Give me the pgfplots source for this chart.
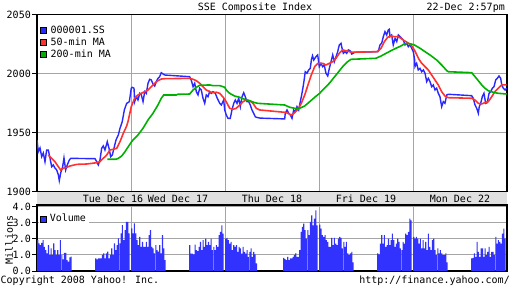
\documentclass[border=0pt]{standalone}
\usepackage{pgfplots}
\pgfplotsset{compat=1.18}
\usepackage{fontspec}
\setmainfont{DejaVu Sans Mono}
\definecolor{ssblue}{RGB}{40,40,255}
\definecolor{ssred}{RGB}{255,50,50}
\definecolor{ssgreen}{RGB}{0,176,0}
\definecolor{volblue}{RGB}{50,50,255}
\definecolor{gridgray}{RGB}{165,165,165}
\definecolor{bandgray}{RGB}{224,224,224}
\begin{document}
\fontsize{10pt}{12pt}\selectfont
\begin{tikzpicture}
\useasboundingbox (0,0) rectangle (512pt,288pt);
\fill[bandgray] (37pt,83pt) rectangle (507pt,96.5pt);
\begin{axis}[name=main, at={(37pt,96.5pt)}, anchor=south west, scale only axis,
  width=470pt, height=177pt, xmin=0, xmax=5, ymin=1900, ymax=2050,
  axis line style={black, line width=1.2pt},
  xtick={1,2,3,4}, xticklabels={}, xtick style={draw=none},
  ytick={1900,1950,2000,2050}, yticklabels={1900,1950,2000,2050},
  ytick pos=left, tick align=outside, major tick length=5pt,
  ytick style={black, line width=0.8pt},
  yticklabel style={inner sep=1pt},
  grid=major, grid style={gridgray, line width=0.8pt},
  extra x ticks={0.809,1.5,2.5,3.5,4.5},
  extra x tick labels={Tue Dec 16,Wed Dec 17,Thu Dec 18,Fri Dec 19,Mon Dec 22},
  extra x tick style={grid=none, major tick length=0pt, tick label style={anchor=base, yshift=-11pt}},
  legend style={at={(0.004,0.952)}, anchor=north west, draw=none, fill=white,
    inner sep=1pt, row sep=0pt, column sep=0pt, nodes={inner sep=1.5pt}, legend cell align=left},
]
\addplot[ssblue, line width=1.4pt, legend image code/.code={\filldraw[draw=black, line width=0.6pt, fill=ssblue] (0pt,-3pt) rectangle (6pt,3pt); \path (8pt,0pt);}] coordinates {
(0.000,1943.6)(0.014,1933.7)(0.032,1936.9)(0.050,1929.5)(0.067,1932.6)(0.085,1925.3)(0.103,1935.2)(0.120,1935.2)(0.138,1928.4)(0.156,1921.0)(0.173,1922.5)(0.191,1919.9)(0.210,1918.2)(0.227,1914.0)(0.237,1909.2)(0.252,1915.7)(0.273,1921.0)(0.287,1928.4)(0.305,1918.2)(0.322,1922.5)(0.344,1926.7)(0.359,1928.1)(0.617,1927.8)(0.635,1925.3)(0.652,1922.5)(0.670,1926.7)(0.688,1936.6)(0.705,1938.6)(0.723,1935.2)(0.748,1942.2)(0.766,1936.6)(0.784,1929.5)(0.801,1930.9)(0.819,1936.6)(0.840,1943.6)(0.865,1947.9)(0.883,1953.6)(0.907,1959.2)(0.929,1969.1)(0.954,1974.7)(0.982,1976.1)(1.003,1987.5)
(1.011,1988.3)(1.032,1987.5)(1.039,1976.1)(1.056,1980.3)(1.074,1977.5)(1.093,1983.2)(1.110,1981.8)(1.128,1976.1)(1.146,1984.6)(1.163,1983.2)(1.181,1991.7)(1.199,1995.1)(1.216,1994.5)(1.234,1991.1)(1.252,1989.4)(1.269,1993.1)(1.287,1995.9)(1.305,1997.3)(1.322,2000.7)(1.340,1999.6)(1.359,1998.7)(1.624,1997.3)(1.641,1994.5)(1.660,1988.8)(1.678,1991.7)(1.695,1984.6)(1.713,1981.8)(1.731,1987.5)(1.748,1986.0)(1.766,1979.0)(1.784,1974.7)(1.801,1981.8)(1.819,1980.3)(1.837,1984.6)(1.854,1983.2)(1.872,1984.6)(1.897,1983.2)(1.918,1979.0)(1.944,1974.7)(1.961,1973.3)(1.986,1977.5)(1.997,1969.1)
(2.014,1964.8)(2.032,1962.0)(2.056,1962.0)(2.074,1969.1)(2.093,1974.7)(2.110,1977.5)(2.128,1974.7)(2.146,1979.0)(2.163,1971.9)(2.181,1980.3)(2.199,1983.7)(2.216,1980.3)(2.234,1976.1)(2.252,1976.1)(2.269,1973.3)(2.287,1969.1)(2.305,1966.3)(2.322,1963.4)(2.333,1962.9)(2.372,1962.2)(2.635,1961.5)(2.641,1966.3)(2.660,1969.1)(2.678,1966.3)(2.695,1964.8)(2.713,1962.0)(2.731,1969.1)(2.748,1967.7)(2.766,1971.9)(2.784,1969.1)(2.801,1976.1)(2.819,1983.2)(2.837,1991.7)(2.854,2001.5)(2.872,2000.2)(2.890,2003.0)(2.907,2004.4)(2.920,2012.0)(2.931,2015.0)(2.944,2011.4)(2.957,2013.0)(2.968,2014.2)(2.986,2015.7)
(3.003,2005.8)(3.021,2008.6)(3.039,2005.8)(3.056,2007.2)(3.074,2000.2)(3.093,1997.9)(3.110,2004.4)(3.128,2010.0)(3.146,2015.7)(3.163,2010.0)(3.181,2014.2)(3.199,2018.5)(3.216,2024.2)(3.234,2025.6)(3.245,2021.4)(3.259,2017.1)(3.277,2018.5)(3.295,2017.1)(3.312,2020.0)(3.330,2019.3)(3.348,2016.5)(3.365,2017.1)(3.376,2018.0)(3.624,2018.5)(3.635,2020.0)(3.649,2024.2)(3.667,2025.6)(3.684,2031.2)(3.702,2035.4)(3.720,2032.6)(3.737,2036.9)(3.748,2037.5)(3.755,2031.2)(3.773,2032.6)(3.790,2024.2)(3.809,2029.8)(3.827,2027.0)(3.844,2032.6)(3.862,2031.2)(3.880,2029.8)(3.897,2028.4)(3.915,2024.2)(3.933,2025.6)(3.950,2022.7)(3.968,2024.2)(3.986,2021.4)(4.003,2018.5)(4.018,2011.4)
(4.021,2005.8)(4.039,2008.6)(4.056,2003.0)(4.074,2004.4)(4.093,2001.5)(4.110,2003.0)(4.128,2000.2)(4.146,1993.1)(4.163,1995.9)(4.181,1993.1)(4.199,1988.8)(4.216,1990.3)(4.234,1986.0)(4.252,1987.5)(4.269,1983.2)(4.287,1980.3)(4.305,1971.9)(4.322,1976.1)(4.340,1974.7)(4.359,1981.8)(4.376,1982.4)(4.624,1981.2)(4.641,1979.0)(4.660,1973.3)(4.678,1970.5)(4.695,1966.3)(4.705,1971.9)(4.720,1974.7)(4.737,1980.3)(4.755,1983.2)(4.773,1974.7)(4.790,1975.3)(4.809,1983.2)(4.827,1984.6)(4.844,1987.5)(4.862,1988.8)(4.880,1994.5)(4.897,1995.9)(4.915,1997.9)(4.933,1995.9)(4.944,1990.3)(4.961,1987.5)(4.979,1986.0)(4.997,1987.5)
};
\addplot[ssred, line width=1.6pt, legend image code/.code={\filldraw[draw=black, line width=0.6pt, fill=ssred] (0pt,-3pt) rectangle (6pt,3pt); \path (8pt,0pt);}] coordinates {
(0.120,1930.9)(0.156,1928.1)(0.191,1925.3)(0.227,1921.0)(0.252,1918.2)(0.280,1919.7)(0.316,1920.5)(0.351,1921.6)(0.422,1923.0)(0.529,1923.3)(0.635,1924.4)(0.670,1925.3)(0.705,1928.1)(0.741,1930.9)(0.777,1935.2)(0.812,1935.8)(0.848,1936.6)(0.883,1942.2)(0.918,1949.3)(0.954,1955.5)(0.968,1959.2)(1.003,1971.9)
(1.039,1979.0)(1.074,1981.8)(1.110,1983.2)(1.146,1984.6)(1.181,1986.0)(1.216,1988.8)(1.252,1991.7)(1.287,1993.9)(1.322,1995.3)(1.359,1995.6)(1.624,1995.9)(1.660,1995.1)(1.695,1993.9)(1.731,1991.7)(1.766,1988.8)(1.801,1986.0)(1.837,1984.6)(1.872,1983.7)(1.907,1984.1)(1.944,1983.2)(1.979,1980.0)(2.014,1976.0)
(2.050,1970.5)(2.085,1969.7)(2.120,1970.5)(2.156,1973.3)(2.191,1976.1)(2.227,1977.5)(2.263,1976.9)(2.298,1974.7)(2.333,1970.5)(2.369,1969.1)(2.635,1967.1)(2.670,1966.3)(2.705,1964.8)(2.741,1966.8)(2.777,1969.7)(2.812,1974.7)(2.848,1981.8)(2.883,1990.3)(2.918,1998.7)(2.954,2005.8)(2.989,2008.6)
(3.039,2008.6)(3.074,2007.2)(3.110,2008.6)(3.146,2010.0)(3.181,2012.9)(3.216,2017.1)(3.252,2020.0)(3.287,2019.3)(3.322,2018.5)(3.359,2018.0)(3.624,2018.5)(3.660,2021.4)(3.695,2027.0)(3.731,2030.7)(3.766,2031.8)(3.801,2031.2)(3.837,2031.2)(3.872,2029.8)(3.907,2027.8)(3.944,2026.1)(3.979,2024.2)(4.014,2020.0)
(4.064,2012.0)(4.093,2008.6)(4.128,2005.8)(4.163,2003.0)(4.199,1998.7)(4.234,1994.5)(4.269,1990.3)(4.305,1984.6)(4.340,1980.9)(4.376,1979.5)(4.624,1979.0)(4.660,1977.5)(4.695,1974.7)(4.731,1974.2)(4.766,1975.3)(4.801,1976.1)(4.837,1980.3)(4.872,1984.6)(4.907,1987.5)(4.944,1990.3)(4.997,1990.3)
};
\addplot[ssgreen, line width=1.6pt, legend image code/.code={\filldraw[draw=black, line width=0.6pt, fill=ssgreen] (0pt,-3pt) rectangle (6pt,3pt); \path (8pt,0pt);}] coordinates {
(0.748,1927.3)(0.840,1927.3)(0.865,1928.1)(0.901,1930.1)(0.936,1933.7)(0.971,1938.0)(1.007,1942.2)
(1.021,1943.6)(1.074,1947.9)(1.128,1953.6)(1.181,1960.6)(1.234,1966.3)(1.287,1973.3)(1.322,1979.0)(1.348,1981.8)(1.482,1981.8)(1.500,1982.4)(1.624,1982.6)(1.660,1986.0)(1.695,1988.3)(1.731,1990.0)(1.837,1990.3)(1.872,1989.7)(1.944,1989.7)(1.997,1988.3)
(2.014,1986.0)(2.050,1983.2)(2.103,1980.9)(2.156,1979.8)(2.210,1978.1)(2.263,1976.9)(2.316,1975.3)(2.351,1974.7)(2.635,1973.3)(2.688,1971.4)(2.741,1970.5)(2.795,1970.5)(2.848,1972.5)(2.901,1976.1)(2.954,1979.8)(3.007,1983.2)
(3.039,1986.0)(3.110,1991.7)(3.181,1998.7)(3.252,2005.8)(3.305,2010.0)(3.340,2012.0)(3.606,2012.9)(3.660,2014.8)(3.713,2017.1)(3.766,2019.3)(3.819,2021.4)(3.872,2023.3)(3.907,2025.0)(3.944,2025.6)(3.979,2025.0)(4.014,2024.2)
(4.074,2021.4)(4.128,2018.5)(4.181,2015.7)(4.252,2011.4)(4.322,2005.8)(4.359,2002.4)(4.376,2001.5)(4.624,2000.7)(4.660,1997.3)(4.695,1993.9)(4.731,1990.3)(4.766,1987.5)(4.801,1985.4)(4.854,1984.1)(4.907,1983.2)(4.997,1982.6)
};
\legend{000001.SS,50-min MA,200-min MA}
\end{axis}
\begin{axis}[name=vol, at={(37pt,17pt)}, anchor=south west, scale only axis,
  width=470pt, height=66pt, xmin=0, xmax=5, ymin=0, ymax=4.09,
  axis line style={black, line width=1.2pt},
  xtick={1,2,3,4}, xticklabels={}, xtick style={draw=none},
  ytick={0,1,2,3,4}, yticklabels={0.0,1.0,2.0,3.0,4.0},
  ytick pos=left, tick align=outside, major tick length=5pt,
  ytick style={black, line width=0.8pt},
  yticklabel style={inner sep=1pt},
  grid=major, grid style={gridgray, line width=0.8pt},
  legend style={at={(0.004,0.90)}, anchor=north west, draw=none, fill=white,
    inner sep=1pt, nodes={inner sep=1.5pt}, legend cell align=left},
]
\addplot[ybar, bar width=1.1pt, bar shift=0pt, fill=volblue, draw=none, legend image code/.code={\filldraw[draw=black, line width=0.6pt, fill=volblue] (0pt,-3pt) rectangle (6pt,3pt); \path (8pt,0pt);}] coordinates {
(0.008,1.92)(0.022,1.71)(0.036,1.61)(0.051,1.75)(0.065,1.92)(0.079,1.5)(0.093,1.3)(0.107,1.09)(0.122,1.61)(0.136,0.99)(0.150,1.4)(0.164,1.0)(0.178,1.71)(0.193,1.3)(0.207,1.0)(0.221,1.3)(0.235,1.0)(0.249,1.92)(0.264,1.0)(0.278,0.72)(0.292,1.13)(0.306,1.13)(0.320,0.68)(0.335,0.58)(0.349,0.85)(0.363,0.89)
(0.625,0.78)(0.639,0.72)(0.653,0.78)(0.668,0.78)(0.682,0.78)(0.696,1.0)(0.710,1.09)(0.724,0.78)(0.739,1.09)(0.753,1.2)(0.767,0.78)(0.781,1.0)(0.795,1.4)(0.810,1.0)(0.824,1.71)(0.838,1.3)(0.852,1.61)(0.866,2.02)(0.881,1.71)(0.895,2.33)(0.909,2.85)(0.923,1.92)(0.937,2.54)(0.952,3.05)(0.966,3.05)(0.980,2.33)
(1.008,2.64)(1.022,2.33)(1.036,2.95)(1.051,2.33)(1.065,1.92)(1.079,1.61)(1.093,2.12)(1.107,1.5)(1.122,1.81)(1.136,1.5)(1.150,1.5)(1.164,1.81)(1.178,1.5)(1.193,2.23)(1.207,2.54)(1.221,1.5)(1.235,1.4)(1.249,1.09)(1.264,1.61)(1.278,1.3)(1.292,1.2)(1.306,1.61)(1.320,1.09)(1.335,2.23)(1.349,1.4)(1.363,0.68)
(1.625,1.6)(1.639,1.08)(1.653,1.08)(1.668,1.03)(1.682,1.64)(1.696,1.3)(1.710,1.23)(1.724,1.5)(1.739,1.8)(1.753,1.3)(1.767,1.91)(1.781,1.5)(1.795,2.01)(1.810,1.6)(1.824,1.8)(1.838,1.6)(1.852,2.01)(1.866,1.3)(1.881,1.5)(1.895,1.3)(1.909,1.6)(1.923,1.5)(1.937,2.22)(1.952,2.42)(1.966,2.83)(1.980,2.32)
(2.008,2.01)(2.022,2.05)(2.036,1.91)(2.051,1.7)(2.065,1.8)(2.079,1.3)(2.093,1.6)(2.107,1.5)(2.122,1.6)(2.136,1.19)(2.150,1.5)(2.164,1.4)(2.178,1.08)(2.193,1.5)(2.207,1.19)(2.221,1.08)(2.235,1.3)(2.249,0.88)(2.264,1.19)(2.278,1.4)(2.292,0.88)(2.306,1.19)(2.320,1.03)(2.335,0.47)
(2.625,0.82)(2.639,0.74)(2.653,0.68)(2.668,0.88)(2.682,0.68)(2.696,0.78)(2.710,0.78)(2.724,0.88)(2.739,0.99)(2.753,1.09)(2.767,0.88)(2.781,0.88)(2.795,1.29)(2.810,2.42)(2.824,2.73)(2.838,2.94)(2.852,2.53)(2.866,2.01)(2.881,2.53)(2.895,2.22)(2.909,3.04)(2.923,3.45)(2.937,2.83)(2.952,3.24)(2.966,3.76)(2.980,2.83)
(3.008,2.87)(3.022,2.63)(3.036,2.22)(3.051,2.11)(3.065,2.22)(3.079,1.91)(3.093,1.8)(3.107,1.5)(3.122,1.5)(3.136,2.05)(3.150,1.6)(3.164,2.05)(3.178,1.7)(3.193,1.6)(3.207,2.01)(3.221,2.11)(3.235,2.05)(3.249,1.4)(3.264,1.8)(3.278,1.5)(3.292,1.8)(3.306,1.09)(3.320,0.99)(3.335,1.09)(3.349,1.19)(3.363,0.53)
(3.625,1.09)(3.639,1.03)(3.653,1.7)(3.668,2.22)(3.682,1.7)(3.696,2.22)(3.710,1.5)(3.724,1.6)(3.739,2.01)(3.753,1.6)(3.767,1.91)(3.781,2.32)(3.795,1.91)(3.810,1.5)(3.824,1.7)(3.838,2.01)(3.852,1.8)(3.866,1.4)(3.881,1.3)(3.895,1.8)(3.909,1.7)(3.923,2.32)(3.937,2.22)(3.952,2.42)(3.966,3.24)(3.980,3.14)
(4.008,2.11)(4.022,2.01)(4.036,2.11)(4.051,2.01)(4.065,1.7)(4.079,2.01)(4.093,1.4)(4.107,1.91)(4.122,1.4)(4.136,1.8)(4.150,1.3)(4.164,2.32)(4.178,1.5)(4.193,1.3)(4.207,1.91)(4.221,2.01)(4.235,1.3)(4.249,0.99)(4.264,1.4)(4.278,1.09)(4.292,1.3)(4.306,1.09)(4.320,0.99)(4.335,0.99)(4.349,1.09)(4.363,0.53)
(4.625,0.78)(4.639,0.82)(4.653,1.09)(4.668,0.88)(4.682,1.8)(4.696,1.19)(4.710,0.88)(4.724,1.4)(4.739,1.4)(4.753,0.88)(4.767,1.4)(4.781,0.99)(4.795,1.19)(4.810,1.5)(4.824,0.88)(4.838,1.19)(4.852,1.19)(4.866,0.99)(4.881,2.11)(4.895,1.7)(4.909,1.91)(4.923,1.8)(4.937,1.7)(4.952,2.32)(4.966,2.63)(4.980,2.01)
};
\legend{Volume}
\end{axis}
\node[anchor=base] at (255pt,277.3pt) {SSE Composite Index};
\node[anchor=base east, inner sep=0pt] at (505pt,277.3pt) {22-Dec 2:57pm};
\node[anchor=base west, inner sep=0pt] at (0.5pt,4pt) {Copyright 2008 Yahoo! Inc.};
\node[anchor=base east, inner sep=0pt] at (510pt,4pt) {http://finance.yahoo.com/};
\node[rotate=90, anchor=center] at (9pt,48pt) {Millions};
\end{tikzpicture}
\end{document}
